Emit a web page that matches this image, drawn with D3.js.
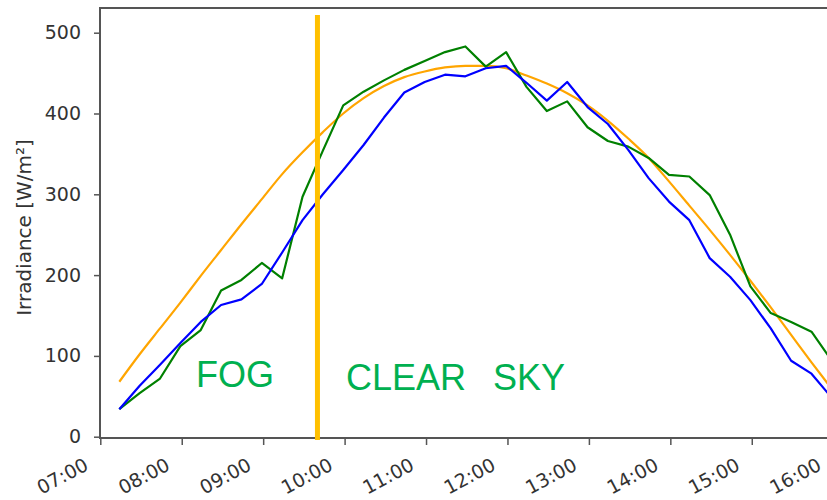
<!DOCTYPE html>
<html>
<head>
<meta charset="utf-8">
<script src="https://cdn.jsdelivr.net/npm/d3@7"></script>
<style>
  html, body { margin: 0; padding: 0; background: #ffffff; }
  svg { display: block; }
</style>
</head>
<body>
<svg id="chart" width="827" height="500"></svg>
<script>
// Sample times (15-minute steps)
const times = [
  "07:14", "07:29", "07:44", "07:59", "08:14", "08:29", "08:44", "08:59", "09:14",
  "09:29", "09:44", "09:59", "10:14", "10:29", "10:44", "10:59", "11:14", "11:29",
  "11:44", "11:59", "12:14", "12:29", "12:44", "12:59", "13:14", "13:29", "13:44",
  "13:59", "14:14", "14:29", "14:44", "14:59", "15:14", "15:29", "15:44", "15:59"
];

// Modelled clear-sky irradiance [W/m²]
const clearSky = [
  68, 102, 134, 166, 199, 231, 263, 294, 325,
  352, 377, 400, 419, 434, 445, 452, 457, 459,
  459, 456, 447, 437, 425, 410, 391, 369, 345,
  316, 286, 256, 225, 193, 160, 126, 92, 59
];

// Measured irradiance, sensor A [W/m²]
const sensorA = [
  34, 63, 89, 116, 142, 163, 170, 189, 228,
  268, 300, 330, 361, 395, 426, 439, 448, 446,
  456, 459, 438, 416, 439, 408, 387, 355, 320,
  291, 268, 221, 198, 169, 134, 94, 78, 48
];

// Measured irradiance, sensor B [W/m²]
const sensorB = [
  34, 54, 72, 112, 132, 181, 194, 215, 196,
  297, 354, 410, 427, 441, 454, 465, 476, 483,
  458, 476, 433, 403, 415, 383, 366, 359, 345,
  324, 322, 299, 250, 186, 153, 142, 130, 94
];

const xTickLabels = ["07:00", "08:00", "09:00", "10:00", "11:00", "12:00", "13:00", "14:00", "15:00", "16:00"];
const yTicks = [0, 100, 200, 300, 400, 500];

// Time at which the fog cleared
const fogEnd = "09:40";

const toMin = s => { const [h, m] = s.split(":").map(Number); return h * 60 + m; };

const svg = d3.select("#chart");

const plotLeft = 100, plotTop = 8, plotBottom = 438, plotRight = 850;

const x = d3.scaleLinear()
  .domain([toMin("07:00"), toMin("16:00")])
  .range([100.3, 833.2]);

const y = d3.scaleLinear()
  .domain([0, 500])
  .range([436.7, 32.7]);

const axisColor = "#555555";
const textColor = "#333333";
const tickFont = "'DejaVu Sans', sans-serif";

// Plot clip
svg.append("defs").append("clipPath").attr("id", "plotClip")
  .append("rect")
  .attr("x", plotLeft).attr("y", plotTop)
  .attr("width", plotRight - plotLeft).attr("height", plotBottom - plotTop);

// Y axis
const yAxis = svg.append("g")
  .attr("transform", `translate(${plotLeft},0)`)
  .call(d3.axisLeft(y).tickValues(yTicks).tickSize(6).tickPadding(13));
yAxis.select(".domain").remove();
yAxis.selectAll(".tick line").attr("stroke", axisColor).attr("stroke-width", 1.5);
yAxis.selectAll(".tick text")
  .attr("fill", textColor)
  .style("font-family", tickFont)
  .style("font-size", "19px");

// X axis
const xAxis = svg.append("g")
  .attr("transform", `translate(0,${plotBottom})`)
  .call(d3.axisBottom(x)
    .tickValues(xTickLabels.map(toMin))
    .tickFormat((d, i) => xTickLabels[i])
    .tickSize(7));
xAxis.select(".domain").remove();
xAxis.selectAll(".tick line").attr("stroke", axisColor).attr("stroke-width", 1.5);
xAxis.selectAll(".tick text")
  .attr("x", 0).attr("y", 0).attr("dy", 0)
  .attr("text-anchor", "end")
  .attr("transform", "translate(-11,31) rotate(-28)")
  .attr("fill", textColor)
  .style("font-family", tickFont)
  .style("font-size", "19px");

// Frame (left, top and bottom spines)
svg.append("path")
  .attr("d", `M${plotRight},${plotTop}H${plotLeft}V${plotBottom}H${plotRight}`)
  .attr("fill", "none")
  .attr("stroke", axisColor)
  .attr("stroke-width", 2);

// Y axis title
svg.append("text")
  .attr("transform", "translate(30.5,227.5) rotate(-90)")
  .attr("text-anchor", "middle")
  .attr("fill", textColor)
  .style("font-family", tickFont)
  .style("font-size", "20px")
  .text("Irradiance [W/m²]");

// Series
const plot = svg.append("g").attr("clip-path", "url(#plotClip)");

const lineOf = (values, curve) => d3.line()
  .x((d, i) => x(toMin(times[i])))
  .y(d => y(d))
  .curve(curve)(values);

plot.append("path")
  .attr("d", lineOf(clearSky, d3.curveMonotoneX))
  .attr("fill", "none").attr("stroke", "#FFA500").attr("stroke-width", 2.2);

plot.append("path")
  .attr("d", lineOf(sensorB, d3.curveLinear))
  .attr("fill", "none").attr("stroke", "#008000").attr("stroke-width", 2.2)
  .attr("stroke-linejoin", "round");

plot.append("path")
  .attr("d", lineOf(sensorA, d3.curveLinear))
  .attr("fill", "none").attr("stroke", "#0000FF").attr("stroke-width", 2.2)
  .attr("stroke-linejoin", "round");

// Fog / clear-sky divider
svg.append("line")
  .attr("x1", x(toMin(fogEnd))).attr("x2", x(toMin(fogEnd)))
  .attr("y1", y(522)).attr("y2", y(-4))
  .attr("stroke", "#FFC000").attr("stroke-width", 5);

// Region labels
const labelStyle = sel => sel
  .attr("fill", "#00B050")
  .style("font-family", "'Liberation Sans', Arial, sans-serif")
  .style("font-size", "36px");

svg.append("text").attr("x", 196).attr("y", 387).call(labelStyle).text("FOG");
const clear = svg.append("text").attr("y", 390).call(labelStyle);
clear.append("tspan").attr("x", 346).text("CLEAR");
clear.append("tspan").attr("x", 493).text("SKY");
</script>
</body>
</html>
